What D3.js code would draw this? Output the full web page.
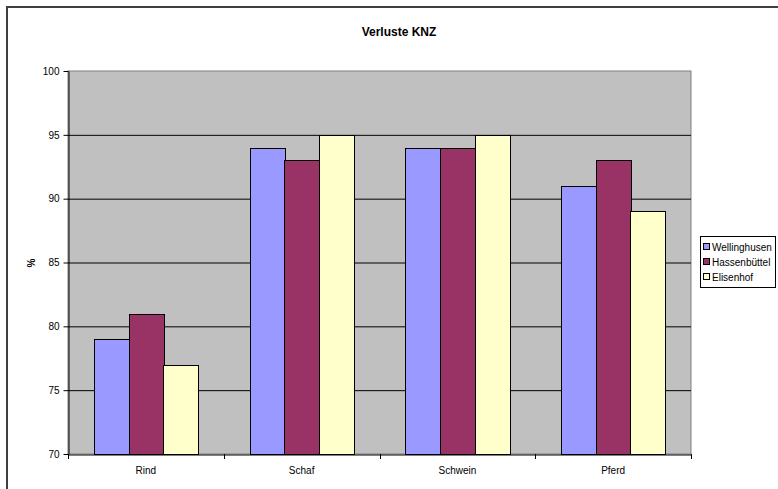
<!DOCTYPE html>
<html><head><meta charset="utf-8">
<script src="https://cdn.jsdelivr.net/npm/d3@7"></script>
<style>body{margin:0;background:#fff}svg{display:block;font-family:Arial,"Liberation Sans",sans-serif}</style>
</head><body><svg id="c" width="778" height="489"></svg>
<script>
const categories = ["Rind", "Schaf", "Schwein", "Pferd"];
const seriesNames = ["Wellinghusen", "Hassenbüttel", "Elisenhof"];
const wellinghusen = [79, 94, 94, 91];
const hassenbuettel = [81, 93, 94, 93];
const elisenhof = [77, 95, 95, 89];
const yTicks = [70, 75, 80, 85, 90, 95, 100];
const colors = ["#9999FF", "#993366", "#FFFFCC"];
const series = [wellinghusen, hassenbuettel, elisenhof];

const svg = d3.select("#c");
const L = 68, R = 691, T = 71, B = 454;

svg.append("rect").attr("x", 7).attr("y", 7).attr("width", 780).attr("height", 490)
  .attr("fill", "#fff").attr("stroke", "#404040").attr("stroke-width", 2);

svg.append("text").attr("x", 399).attr("y", 36).attr("text-anchor", "middle")
  .attr("font-size", 12).attr("font-weight", "bold").text("Verluste KNZ");

const x = d3.scaleBand().domain(categories).range([L, R]);
const y = d3.scaleLinear().domain([70, 100]).range([B, T]);
const inner = d3.scaleBand().domain(d3.range(3)).range([0, x.bandwidth()]).paddingOuter(0.75 * 1.0).paddingInner(0);
// group width = band*3/4.5
const bw = x.bandwidth() * 3 / 4.5;
const off = (x.bandwidth() - bw) / 2;
const xi = d3.scaleBand().domain(d3.range(3)).range([off, off + bw]);

svg.append("rect").attr("x", L).attr("y", T).attr("width", R - L).attr("height", B - T)
  .attr("fill", "#C0C0C0").attr("stroke", "#808080").attr("stroke-width", 1);

svg.append("g").selectAll("line").data(yTicks.filter(d => d > 70 && d < 100)).join("line")
  .attr("x1", L).attr("x2", R).attr("y1", d => y(d) + 0.5).attr("y2", d => y(d) + 0.5)
  .attr("stroke", "#000").attr("stroke-width", 1);

categories.forEach((c, ci) => {
  series.forEach((s, si) => {
    svg.append("rect")
      .attr("x", Math.round(x(c) + xi(si)) + 0.5)
      .attr("y", Math.round(y(s[ci])) + 0.5)
      .attr("width", Math.round(xi.bandwidth()))
      .attr("height", Math.round(y(70) - y(s[ci])))
      .attr("fill", colors[si]).attr("stroke", "#000").attr("stroke-width", 1);
  });
});

const yAxis = d3.axisLeft(y).tickValues(yTicks).tickSize(5).tickSizeOuter(0).tickPadding(4);
const gy = svg.append("g").attr("transform", `translate(${L + 0.5},0)`).call(yAxis);
gy.select(".domain").attr("stroke", "#000");
gy.selectAll("text").attr("font-size", 10).attr("font-family", "Arial,'Liberation Sans',sans-serif").attr("fill", "#000");
gy.selectAll(".tick line").attr("stroke", "#000");

const gx = svg.append("g").attr("transform", `translate(0,${B + 0.5})`)
  .call(d3.axisBottom(x).tickSize(0).tickPadding(12).tickSizeOuter(0));
gx.select(".domain").attr("stroke", "#000");
gx.selectAll("text").attr("font-size", 10).attr("font-family", "Arial,'Liberation Sans',sans-serif").attr("fill", "#000");
const bounds = categories.map(c => x(c)).concat([R]);
svg.append("g").selectAll("line").data(bounds).join("line")
  .attr("x1", d => Math.round(d) + 0.5).attr("x2", d => Math.round(d) + 0.5)
  .attr("y1", B).attr("y2", B + 5).attr("stroke", "#000");

svg.append("text").attr("transform", "translate(35,263) rotate(-90)").attr("text-anchor", "middle")
  .attr("font-size", 10).attr("font-weight", "bold").text("%");

const lg = svg.append("g");
lg.append("rect").attr("x", 700.5).attr("y", 236.5).attr("width", 75).attr("height", 51)
  .attr("fill", "#fff").attr("stroke", "#000");
seriesNames.forEach((n, i) => {
  const yy = 247 + i * 15;
  lg.append("rect").attr("x", 703.5).attr("y", yy - 3.5).attr("width", 6).attr("height", 6)
    .attr("fill", colors[i]).attr("stroke", "#000");
  lg.append("text").attr("x", 712).attr("y", yy + 3.5).attr("font-size", 10).text(n);
});
</script></body></html>
